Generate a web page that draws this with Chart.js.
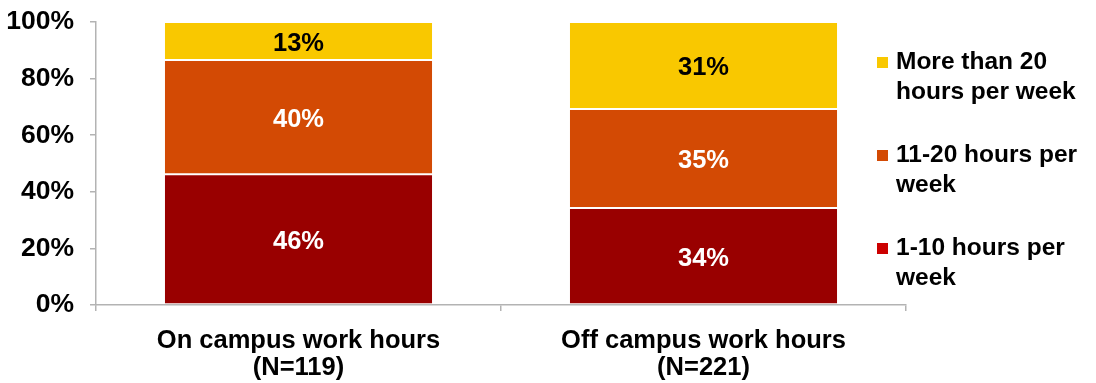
<!DOCTYPE html>
<html>
<head>
<meta charset="utf-8">
<script src="https://cdn.jsdelivr.net/npm/chart.js@4/dist/chart.umd.min.js"></script>
<style>
  body { margin: 0; background: #fff; }
  #wrap { position: relative; width: 1096px; height: 383px; }
  .leg { position: absolute; left: 877px; font: bold 24.5px "Liberation Sans", Arial, sans-serif; line-height: 30px; color: #000; }
  .leg .sw { position: absolute; left: 0; top: 11px; width: 11px; height: 11px; }
  .leg .tx { position: absolute; left: 19px; white-space: nowrap; }
</style>
</head>
<body>
<div id="wrap">
  <canvas id="myChart" width="1096" height="383"></canvas>
  <div id="legend"></div>
</div>
<script>
// categories (x axis, two lines each)
var categories = [["On campus work hours", "(N=119)"], ["Off campus work hours", "(N=221)"]];
// series, bottom to top
var hours1to10 = [46.2, 34.3];
var hours11to20 = [40.4, 35.0];
var hoursOver20 = [13.4, 30.7];
var yTicks = [0, 20, 40, 60, 80, 100];

var FONT = '"Liberation Sans", Arial, sans-serif';

var seriesList = [
    {label: "1-10 hours per week", legend: ["1-10 hours per", "week"], data: hours1to10, color: "#990000", swatch: "#CC0000", text: "#fff"},
    {label: "11-20 hours per week", legend: ["11-20 hours per", "week"], data: hours11to20, color: "#D34A04", swatch: "#D34A04", text: "#fff"},
    {label: "More than 20 hours per week", legend: ["More than 20", "hours per week"], data: hoursOver20, color: "#F9C800", swatch: "#F9C800", text: "#000"}
];

// draws the percentage in the middle of each segment
var barLabels = {
    id: 'barLabels',
    afterDatasetsDraw: function(chart) {
        var ctx = chart.ctx;
        ctx.save();
        ctx.font = 'bold 25.5px ' + FONT;
        ctx.textAlign = 'center';
        ctx.textBaseline = 'middle';
        chart.data.datasets.forEach(function(ds, i) {
            chart.getDatasetMeta(i).data.forEach(function(bar, j) {
                var mid = (bar.y + bar.base) / 2 + 3;
                ctx.fillStyle = ds.textColor;
                ctx.fillText(Math.round(ds.data[j]) + '%', bar.x, mid);
            });
        });
        ctx.restore();
    }
};

function main(){
    var ctx = document.getElementById('myChart').getContext('2d');
    var myChart = new Chart(ctx, {
        type: 'bar',
        data: {
            labels: categories,
            datasets: seriesList.map(function(s) {
                return {
                    label: s.label,
                    data: s.data,
                    backgroundColor: s.color,
                    borderColor: '#ffffff',
                    borderWidth: {top: 1, bottom: 1, left: 0, right: 0},
                    borderSkipped: false,
                    textColor: s.text,
                    categoryPercentage: 1,
                    barPercentage: 0.66
                };
            })
        },
        options: {
            responsive: false,
            animation: false,
            events: [],
            layout: {padding: {top: 22, right: 190, left: 0, bottom: 0}},
            plugins: {legend: {display: false}, tooltip: {enabled: false}},
            scales: {
                x: {
                    stacked: true,
                    offset: true,
                    grid: {offset: true, drawOnChartArea: false, tickLength: 6, color: '#b3b3b3', lineWidth: 1.5},
                    border: {color: '#b3b3b3', width: 1.5},
                    ticks: {color: '#000', font: {family: FONT, size: 25.5, weight: 'bold', lineHeight: 1.08}, padding: 16, maxRotation: 0},
                    afterFit: function(scale) { scale.height = 78; scale.paddingLeft = 0; scale.paddingRight = 0; }
                },
                y: {
                    stacked: true,
                    min: 0,
                    max: 100,
                    afterBuildTicks: function(scale) { scale.ticks = yTicks.map(function(v) { return {value: v}; }); },
                    grid: {drawOnChartArea: false, tickLength: 6, color: '#b3b3b3', lineWidth: 1.5},
                    border: {color: '#b3b3b3', width: 1.5},
                    ticks: {color: '#000', font: {family: FONT, size: 26.5, weight: 'bold'}, padding: 16,
                        callback: function(v) { return v + '%'; }},
                    afterFit: function(scale) { scale.width = 96; scale.paddingTop = 0; scale.paddingBottom = 0; }
                }
            }
        },
        plugins: [barLabels]
    });

    // legend, top item is the top segment
    var tops = [232, 139, 46];
    var html = '';
    seriesList.forEach(function(s, i) {
        html += '<div class="leg" style="top:' + tops[i] + 'px"><div class="sw" style="background:' + s.swatch + '"></div>' +
            '<div class="tx">' + s.legend.join('<br>') + '</div></div>';
    });
    document.getElementById('legend').innerHTML = html;
}

document.addEventListener("DOMContentLoaded", function(event) {
    main();
});
</script>
</body>
</html>
